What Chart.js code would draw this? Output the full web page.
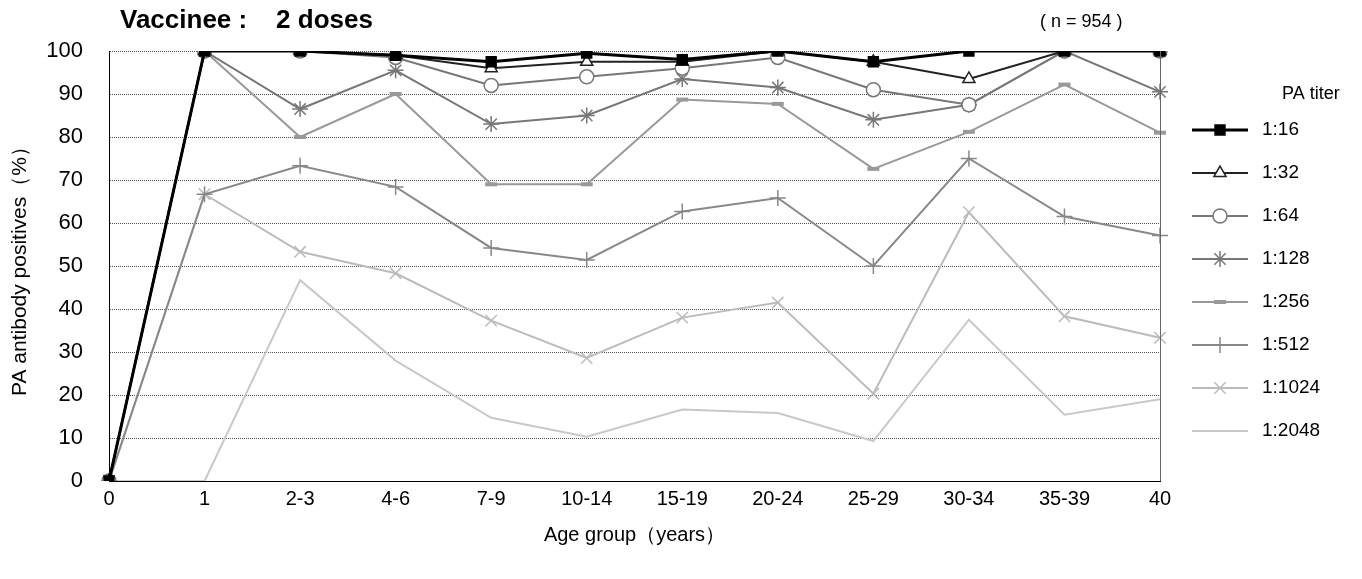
<!DOCTYPE html>
<html><head><meta charset="utf-8">
<script src="https://cdn.jsdelivr.net/npm/chart.js@4/dist/chart.umd.min.js"></script>
<style>html,body{margin:0;background:#fff}#wrap{width:1362px;height:579px}</style>
</head><body><div id="wrap"><canvas id="c"></canvas></div>
<script>
const ageGroups = ['0','1','2-3','4-6','7-9','10-14','15-19','20-24','25-29','30-34','35-39','40'];
const titers = ['1:16','1:32','1:64','1:128','1:256','1:512','1:1024','1:2048'];
const t16   = [0,100,100,99,97.5,99.5,98,100,97.5,100,100,100];
const t32   = [0,100,100,99,96,97.5,97.5,100,97.5,93.5,100,100];
const t64   = [0,100,100,98.5,92,94,96,98.5,91,87.5,100,100];
const t128  = [0,100,86.5,95.5,83,85,93.5,91.5,84,87.5,100,90.5];
const t256  = [0,100,80,90,69,69,88.7,87.7,72.6,81.2,92.2,81];
const t512  = [0,66.7,73.3,68.4,54.2,51.4,62.7,65.8,50,75,61.5,57.1];
const t1024 = [0,66.7,53.3,48.3,37.3,28.6,38,41.5,20.3,62.5,38.3,33.3];
const t2048 = [0,0,46.7,28,14.7,10.3,16.6,15.8,9.3,37.5,15.4,19];

const FONT = 'Arial, "Liberation Sans"';
const styles = [
  {c:'#000', w:3, p:'rect', r:7, fill:'#000', bw:1.5},
  {c:'#222', w:2, p:'triangle', r:7, fill:'#fff', bw:1.5},
  {c:'#777', w:2, p:'circle', r:7, fill:'#fff', bw:1.5},
  {c:'#777', w:2, p:'star', r:8, fill:'#777', bw:1.5},
  {c:'#999', w:2, p:'line', r:6, fill:'#999', bw:4},
  {c:'#888', w:2, p:'cross', r:8, fill:'#888', bw:1.5},
  {c:'#bbb', w:2, p:'crossRot', r:8, fill:'#bbb', bw:1.5},
  {c:'#c8c8c8', w:2, p:false, r:0, fill:'#c8c8c8', bw:1}
];
const series = [t16,t32,t64,t128,t256,t512,t1024,t2048];

const datasets = series.map((d,i) => ({
  label: titers[i], data: d,
  borderColor: styles[i].c, borderWidth: styles[i].w,
  pointStyle: styles[i].p, pointRadius: styles[i].r,
  pointBorderColor: styles[i].c, pointBackgroundColor: styles[i].fill,
  pointBorderWidth: styles[i].bw, tension: 0, order: i
}));

const extras = {
  id: 'extras',
  afterDraw(chart) {
    const g = chart.ctx, a = chart.chartArea;
    g.save();
    g.strokeStyle = '#666'; g.lineWidth = 1;
    g.beginPath(); g.moveTo(a.right + 0.5, a.top); g.lineTo(a.right + 0.5, a.bottom); g.stroke();
    g.fillStyle = '#000';
    g.font = 'bold 26px ' + FONT;
    g.textBaseline = 'middle';
    g.fillText('Vaccinee :    2 doses', 120, 21);
    g.font = '18px ' + FONT;
    g.fillText('( n = 954 )', 1040, 22);
    g.fillText('PA titer', 1282, 94);
    titers.forEach((t,i) => {
      const y = 130 + i*43, s = styles[i];
      g.strokeStyle = s.c; g.lineWidth = s.w;
      g.beginPath(); g.moveTo(1192,y); g.lineTo(1248,y); g.stroke();
      if (s.p) {
        g.fillStyle = s.fill; g.lineWidth = s.bw;
        Chart.helpers.drawPoint(g, {pointStyle: s.p, radius: s.r, rotation: 0, borderWidth: s.bw}, 1220, y);
      }
      g.fillStyle = '#000';
      g.font = '19px ' + FONT;
      g.fillText(t, 1262, y);
    });
    g.restore();
  }
};

new Chart(document.getElementById('c'), {
  type: 'line',
  data: { labels: ageGroups, datasets },
  plugins: [extras],
  options: {
    responsive: true, maintainAspectRatio: false, animation: false,
    layout: { padding: { top: 51, right: 202, left: 4, bottom: 28 } },
    plugins: { legend: { display: false }, tooltip: { enabled: false } },
    scales: {
      x: {
        offset: false,
        afterFit: s => { s.height = 70; },
        grid: { display: false, drawTicks: false },
        border: { color: '#000', width: 1 },
        ticks: { color: '#000', font: { size: 20, family: FONT }, padding: 6, maxRotation: 0, autoSkip: false },
        title: { display: true, text: 'Age group（years）', color: '#000', font: { size: 20, family: FONT }, padding: { top: 10 } }
      },
      y: {
        min: 0, max: 100,
        afterFit: s => { s.width = 105; },
        grid: { color: '#555', drawTicks: false },
        border: { color: '#000', width: 1, dash: [1,1] },
        ticks: { stepSize: 10, color: '#000', font: { size: 22, family: FONT }, padding: 26 },
        title: { display: true, text: 'PA antibody positives（%）', color: '#000', font: { size: 21, family: FONT } }
      }
    }
  }
});
</script></body></html>
